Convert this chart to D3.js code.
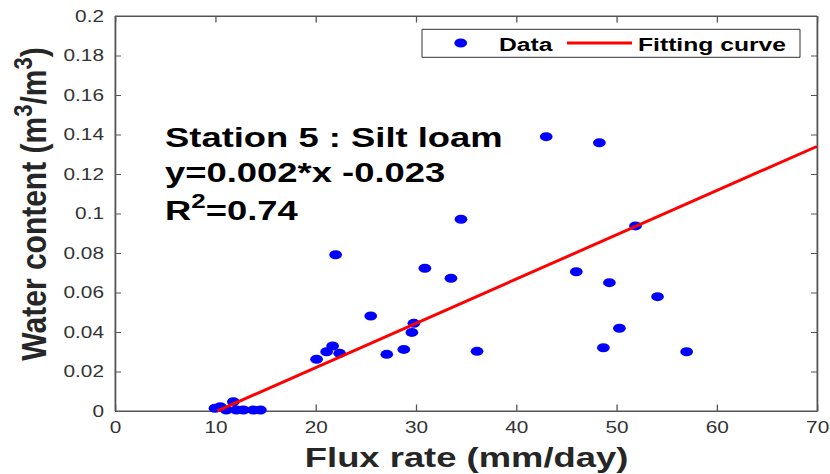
<!DOCTYPE html>
<html>
<head>
<meta charset="utf-8">
<script src="https://cdn.jsdelivr.net/npm/d3@7"></script>
<style>
  html, body { margin: 0; padding: 0; background: #fff; }
  svg { display: block; }
  text { font-family: "Liberation Sans", Arial, Helvetica, sans-serif; }
</style>
</head>
<body>
<svg id="chart"></svg>
<script>
// ---------------- data ----------------
const fluxRate = [43.0, 48.3, 51.9, 34.5, 22.0, 30.9, 33.5, 46.0, 49.3, 54.1,
                  25.5, 29.8, 29.6, 50.3, 28.8, 27.1, 36.1, 48.7, 57.0, 21.7,
                  21.1, 22.4, 20.1,
                  9.97, 10.5, 11.1, 11.8, 12.1, 12.8, 13.8, 14.5];
const waterContent = [0.1389, 0.1358, 0.0937, 0.0971, 0.0791, 0.0723, 0.0672, 0.0705, 0.0650, 0.0579,
                      0.0481, 0.0444, 0.0398, 0.0419, 0.0312, 0.0287, 0.0302, 0.0320, 0.0300, 0.0329,
                      0.0300, 0.0292, 0.0262,
                      0.0014, 0.0022, 0.0005, 0.0047, 0.0005, 0.0005, 0.0005, 0.0005];
const fitX = [10.2, 70];
const fitY = [0.0, 0.134];
const xTicks = [0, 10, 20, 30, 40, 50, 60, 70];
const xTickLabels = ["0", "10", "20", "30", "40", "50", "60", "70"];
const yTicks = [0, 0.02, 0.04, 0.06, 0.08, 0.1, 0.12, 0.14, 0.16, 0.18, 0.2];
const yTickLabels = ["0", "0.02", "0.04", "0.06", "0.08", "0.1", "0.12", "0.14", "0.16", "0.18", "0.2"];
const legendLabels = ["Data", "Fitting curve"];

// ---------------- layout ----------------
const W = 830, H = 474, SX = 1.3;           // picture is stretched horizontally
const VW = W / SX;
const px = v => v / SX;                      // screen x -> viewBox x
const plot = { left: 115, right: 817, top: 16, bottom: 411 };

const svg = d3.select("#chart")
  .attr("width", W).attr("height", H)
  .attr("viewBox", `0 0 ${VW} ${H}`)
  .attr("preserveAspectRatio", "none");

const x = d3.scaleLinear().domain([0, 70]).range([px(plot.left), px(plot.right)]);
const y = d3.scaleLinear().domain([0, 0.2]).range([plot.bottom, plot.top]);

const axisColor = "#555";
const labelColor = "#333";

// axes
const gx = svg.append("g").attr("transform", `translate(0,${plot.bottom})`)
  .call(d3.axisBottom(x).tickValues(xTicks).tickFormat((d, i) => xTickLabels[i])
        .tickSizeInner(-6.5).tickSizeOuter(0).tickPadding(11));
const gxt = svg.append("g").attr("transform", `translate(0,${plot.top})`)
  .call(d3.axisTop(x).tickValues(xTicks).tickFormat("")
        .tickSizeInner(-6.5).tickSizeOuter(0));
const gy = svg.append("g").attr("transform", `translate(${px(plot.left)},0)`)
  .call(d3.axisLeft(y).tickValues(yTicks).tickFormat((d, i) => yTickLabels[i])
        .tickSizeInner(-px(6)).tickSizeOuter(0).tickPadding(px(11)));
const gyr = svg.append("g").attr("transform", `translate(${px(plot.right)},0)`)
  .call(d3.axisRight(y).tickValues(yTicks).tickFormat("")
        .tickSizeInner(-px(6)).tickSizeOuter(0));

[gx, gxt, gy, gyr].forEach(g => {
  g.select(".domain").attr("stroke", axisColor).attr("stroke-width", 1);
  g.selectAll(".tick line").attr("stroke", axisColor).attr("stroke-width", 1);
  g.selectAll("text").attr("fill", labelColor)
    .style("font-family", "'Liberation Sans', Arial, sans-serif").style("font-size", "16px");
});

// full box
svg.append("rect")
  .attr("x", px(plot.left)).attr("y", plot.top)
  .attr("width", px(plot.right - plot.left)).attr("height", plot.bottom - plot.top)
  .attr("fill", "none").attr("stroke", axisColor).attr("stroke-width", 1)
  .attr("vector-effect", "non-scaling-stroke");

// data points
svg.append("g").selectAll("ellipse")
  .data(fluxRate.map((d, i) => [d, waterContent[i]]))
  .join("ellipse")
  .attr("cx", d => x(d[0])).attr("cy", d => y(d[1]))
  .attr("rx", 4.9).attr("ry", 4.5)
  .attr("fill", "#0000ff");

// fit line
svg.append("path")
  .datum(fitX.map((d, i) => [d, fitY[i]]))
  .attr("d", d3.line().x(d => x(d[0])).y(d => y(d[1])))
  .attr("stroke", "#ff0000").attr("stroke-width", 2.8).attr("fill", "none");

// annotation
const ann = svg.append("g").attr("font-weight", "bold").attr("font-size", 28).attr("fill", "#000");
ann.append("text").attr("x", px(165)).attr("y", 146.7).text("Station 5 : Silt loam");
ann.append("text").attr("x", px(165)).attr("y", 181.7).text("y=0.002*x -0.023");
const r2 = ann.append("text").attr("x", px(165)).attr("y", 220);
r2.append("tspan").text("R");
r2.append("tspan").attr("font-size", 20).attr("dy", -12).text("2");
r2.append("tspan").attr("dy", 12).text("=0.74");

// x title
svg.append("text")
  .attr("x", px(466.6)).attr("y", 466.7)
  .attr("text-anchor", "middle").attr("font-weight", "bold").attr("font-size", 28)
  .attr("fill", "#262626")
  .text("Flux rate (mm/day)");

// y title
const yt = svg.append("text")
  .attr("transform", `translate(${px(46)},204) scale(${1.15 / SX},1) rotate(-90)`)
  .attr("text-anchor", "middle").attr("font-weight", "bold").attr("font-size", 30)
  .attr("fill", "#262626");
yt.append("tspan").text("Water content (m");
yt.append("tspan").attr("font-size", 22).attr("dy", -12).text("3");
yt.append("tspan").attr("dy", 12).text("/m");
yt.append("tspan").attr("font-size", 22).attr("dy", -12).text("3");
yt.append("tspan").attr("dy", 12).text(")");

// legend
const lg = svg.append("g");
lg.append("rect")
  .attr("x", px(422)).attr("y", 29.3)
  .attr("width", px(800 - 422)).attr("height", 28)
  .attr("fill", "#fff").attr("stroke", "#333").attr("stroke-width", 1)
  .attr("vector-effect", "non-scaling-stroke");
lg.append("ellipse").attr("cx", px(460.7)).attr("cy", 43).attr("rx", 4.9).attr("ry", 4.5).attr("fill", "#0000ff");
lg.append("text").attr("x", px(499)).attr("y", 50.7)
  .attr("font-weight", "bold").attr("font-size", 19).attr("fill", "#000").text(legendLabels[0]);
lg.append("line").attr("x1", px(567)).attr("x2", px(632)).attr("y1", 43).attr("y2", 43)
  .attr("stroke", "#ff0000").attr("stroke-width", 2.8);
lg.append("text").attr("x", px(638)).attr("y", 50.7)
  .attr("font-weight", "bold").attr("font-size", 19).attr("fill", "#000").text(legendLabels[1]);
</script>
</body>
</html>
